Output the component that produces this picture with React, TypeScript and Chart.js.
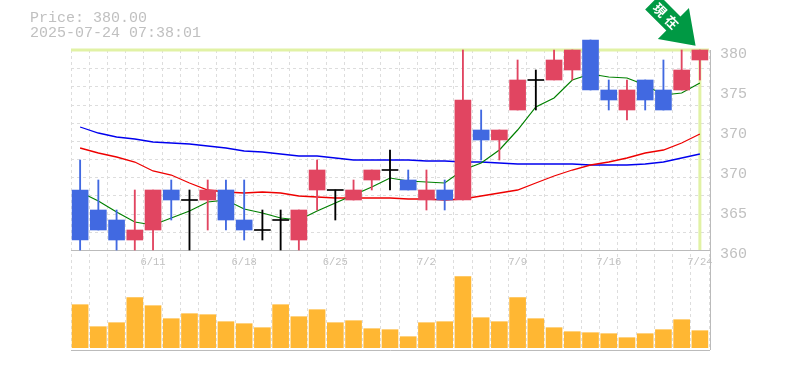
import React, { useEffect, useRef } from "react";
import { Chart, registerables } from "chart.js";

Chart.register(...registerables);

const dates = ["6/4","6/5","6/6","6/9","6/10","6/11","6/12","6/13","6/16","6/17","6/18","6/19","6/20","6/23","6/24","6/25","6/26","6/27","6/30","7/1","7/2","7/3","7/4","7/7","7/8","7/9","7/10","7/11","7/14","7/15","7/16","7/17","7/18","7/22","7/23"];
const axisLabels: Record<number, string> = { 4: "6/11", 9: "6/18", 14: "6/25", 19: "7/2", 24: "7/9", 29: "7/16", 34: "7/24" };
const open = [366,364,363,361,362,366,365,365,366,363,362,363,361,366,366,365,367,368,367,365,366,365,372,371,374,377,377,378,381,376,374,377,376,376,379];
const close = [361,362,361,362,366,365,365,366,363,362,362,363,364,368,366,366,368,368,366,366,365,375,371,372,377,377,379,380,376,375,376,375,374,378,380];
const high = [369,367,364,366,366,367,366,367,367,367,364,364,364,369,366,367,368,370,368,368,367,380,374,372,379,378,380,380,381,377,377,377,379,380,380];
const low = [360,362,360,360,360,363,360,362,362,361,361,360,360,364,363,365,366,366,366,364,364,365,369,369,374,374,377,377,376,374,373,374,374,376,377];
const ma5 = [365.8,364.9,363.8,362.8,362.5,363.2,363.9,364.8,365,364.1,363.7,363.2,363,363.9,364.7,365.5,366.3,367.2,366.9,366.8,366.7,368,368.7,370,372,374.3,375.2,377,377.6,377.3,377.2,376.5,375.5,375.7,376.7];
const ma25 = [370.2,369.7,369.3,368.8,367.9,367.5,366.7,366,365.8,365.7,365.8,365.7,365.4,365.3,365.2,365.2,365.2,365.2,365.1,365.1,365,365.1,365.4,365.7,366,366.7,367.4,368,368.5,368.8,369.2,369.7,370,370.7,371.6];
const ma75 = [372.3,371.7,371.3,371.1,370.8,370.7,370.6,370.4,370.2,369.9,369.8,369.6,369.4,369.4,369.2,369,369,369,369,368.9,368.9,368.8,368.8,368.7,368.6,368.6,368.6,368.6,368.5,368.5,368.5,368.6,368.8,369.2,369.6];
const volume = [43,21,25,50,42,29,34,33,26,24,20,43,31,38,25,27,19,18,11,25,26,71,30,26,50,29,20,16,15,14,10,14,18,28,17];
const priceTickLabels = ["360","365","370","370","375","380"];
const gridDivisions = 11;
const currentPrice = 380;
const infoLines = ["Price: 380.00", "2025-07-24 07:38:01"];
const arrowLabel = "現在";

const BLUE = "#4169E1";
const RED = "#E14561";
const BLACK = "#000000";
const GRID = "#dddddd";
const TEXT = "#c0c0c0";
const MONO = "'Liberation Mono', monospace";

const colorOf = (i: number) => (close[i] > open[i] ? RED : close[i] < open[i] ? BLUE : BLACK);

const decorations = {
  id: "decorations",
  beforeDatasetsDraw(chart: any) {
    const { ctx, chartArea: a, scales } = chart;
    const y = scales.yPrice;
    const x = scales.x;
    ctx.save();
    ctx.strokeStyle = GRID;
    ctx.lineWidth = 1;
    ctx.setLineDash([3, 3]);
    for (let k = 0; k <= gridDivisions; k++) {
      const py = Math.round(y.getPixelForValue(360 + (k * 20) / gridDivisions)) + 0.5;
      ctx.beginPath();
      ctx.moveTo(a.left, py);
      ctx.lineTo(a.right, py);
      ctx.stroke();
    }
    ctx.setLineDash([]);
    ctx.strokeStyle = "#bbbbbb";
    const vol = scales.yVol;
    ctx.beginPath();
    ctx.moveTo(a.left, Math.round(vol.top) + 0.5);
    ctx.lineTo(a.right + 1, Math.round(vol.top) + 0.5);
    ctx.moveTo(a.left, Math.round(vol.bottom) + 0.5);
    ctx.lineTo(a.right + 1, Math.round(vol.bottom) + 0.5);
    ctx.moveTo(a.right + 1.5, a.top);
    ctx.lineTo(a.right + 1.5, a.bottom);
    ctx.stroke();
    const py = y.getPixelForValue(currentPrice);
    const px = x.getPixelForValue(dates.length - 1);
    ctx.strokeStyle = "#E1F2A5";
    ctx.lineWidth = 3;
    ctx.beginPath();
    ctx.moveTo(a.left, py);
    ctx.lineTo(a.right, py);
    ctx.moveTo(px, py);
    ctx.lineTo(px, y.bottom);
    ctx.stroke();
    ctx.restore();
  },
  afterDraw(chart: any) {
    const { ctx, scales } = chart;
    const tipX = scales.x.getPixelForValue(dates.length - 1) - 4.3;
    const tipY = scales.yPrice.getPixelForValue(currentPrice) - 4.3;
    ctx.save();
    ctx.fillStyle = TEXT;
    ctx.font = `15px ${MONO}`;
    ctx.textBaseline = "middle";
    ctx.textAlign = "left";
    infoLines.forEach((t, i) => ctx.fillText(t, 30, 18 + i * 15));
    ctx.translate(tipX, tipY);
    ctx.rotate(-Math.PI / 4);
    ctx.fillStyle = "#009944";
    ctx.beginPath();
    ctx.moveTo(0, 0);
    ctx.lineTo(-22, -31.4);
    ctx.lineTo(-10, -31.4);
    ctx.lineTo(-10, -61.3);
    ctx.lineTo(10, -61.3);
    ctx.lineTo(10, -31.4);
    ctx.lineTo(22, -31.4);
    ctx.closePath();
    ctx.fill();
    ctx.fillStyle = "#ffffff";
    ctx.font = "bold 13px 'Noto Sans CJK JP'";
    ctx.textAlign = "center";
    ctx.textBaseline = "middle";
    ctx.translate(0, -42);
    ctx.rotate(Math.PI / 2);
    (ctx as any).letterSpacing = "4px";
    ctx.fillText(arrowLabel, 2, 0);
    ctx.restore();
  },
};

export default function App() {
  const ref = useRef<HTMLCanvasElement>(null);
  useEffect(() => {
    const body = open.map((o, i) =>
      o === close[i] ? [o - 0.05, o + 0.05] : [Math.min(o, close[i]), Math.max(o, close[i])]
    );
    const wicks = low.map((l, i) => [l, high[i]]);
    const colors = open.map((_, i) => colorOf(i));
    const line = (label: string, data: number[], color: string, width: number) => ({
      type: "line" as const,
      label,
      data,
      yAxisID: "yPrice",
      borderColor: color,
      borderWidth: width,
      pointRadius: 0,
      tension: 0,
      order: 3,
    });
    const chart = new Chart(ref.current as HTMLCanvasElement, {
      data: {
        labels: dates,
        datasets: [
          line("MA5", ma5, "#008000", 1.2),
          line("MA25", ma25, "#ee0000", 1.3),
          line("MA75", ma75, "#0000ee", 1.3),
          { type: "bar", label: "wick", data: wicks as any, yAxisID: "yPrice", backgroundColor: colors, barThickness: 1.2, grouped: false, order: 2, clip: false },
          { type: "bar", label: "body", data: body as any, yAxisID: "yPrice", backgroundColor: colors, barThickness: 16, grouped: false, order: 1, clip: false },
          { type: "bar", label: "volume", data: volume, yAxisID: "yVol", backgroundColor: "#FFB733", barThickness: 16, grouped: false, order: 1 },
        ],
      },
      options: {
        animation: false,
        responsive: false,
        events: [],
        layout: { padding: { left: 71, top: 50, bottom: 20, right: 0 } },
        plugins: { legend: { display: false }, tooltip: { enabled: false }, title: { display: false } },
        scales: {
          x: {
            position: { yVol: 97.7 } as any,
            offset: true,
            grid: { color: GRID, offset: true, drawTicks: false },
            border: { display: false, dash: [3, 3] },
            ticks: {
              autoSkip: false,
              maxRotation: 0,
              color: TEXT,
              padding: 6,
              font: { family: MONO, size: 10.5 },
              callback: (_: any, i: number) => axisLabels[i] ?? "",
            },
          },
          yPrice: {
            type: "linear",
            position: "right",
            stack: "panels",
            stackWeight: 2,
            min: 360,
            max: 380,
            grid: { display: false },
            border: { display: false },
            afterFit: (s: any) => { s.width = 76; },
            ticks: {
              stepSize: 4,
              autoSkip: false,
              color: TEXT,
              padding: 3,
              labelOffset: 4,
              font: { family: MONO, size: 15 },
              callback: (_: any, i: number) => priceTickLabels[i],
            },
          },
          yVol: {
            type: "linear",
            position: "right",
            stack: "panels",
            stackWeight: 1,
            min: -2.3,
            max: 97.7,
            grid: { display: false },
            border: { display: false },
            afterFit: (s: any) => { s.width = 76; },
            ticks: { display: false },
          },
        },
      },
      plugins: [decorations],
    } as any);
    return () => chart.destroy();
  }, []);
  return <canvas ref={ref} width={785} height={370} style={{ position: "fixed", left: 0, top: 0, display: "block" }} />;
}
